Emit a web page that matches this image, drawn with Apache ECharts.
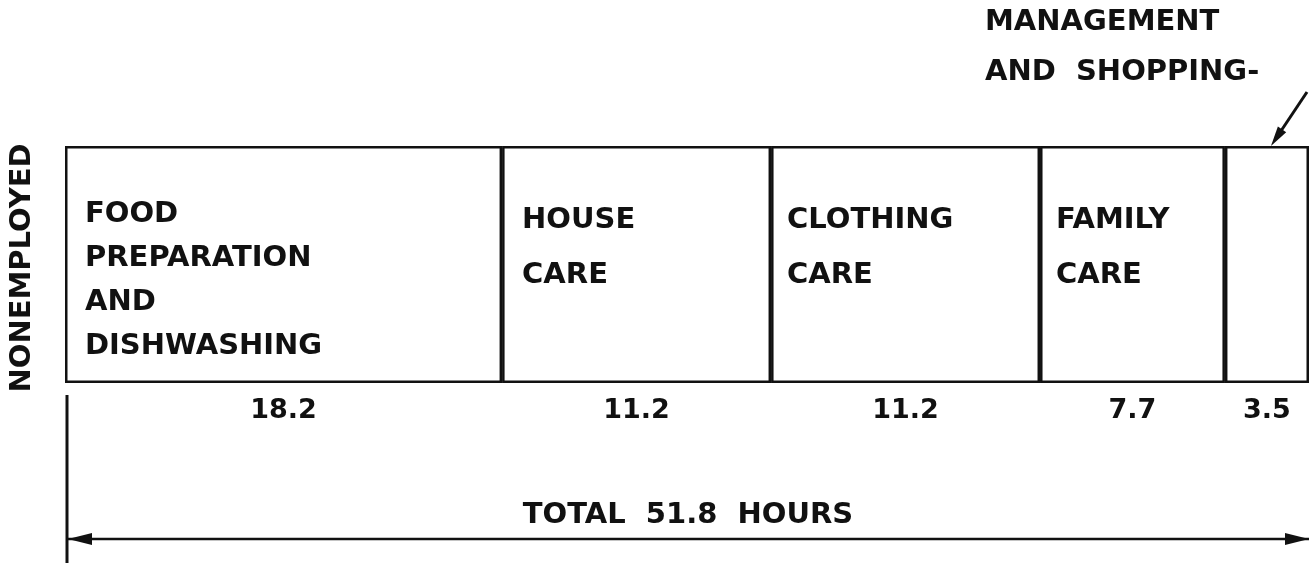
<!DOCTYPE html>
<html>
<head>
<meta charset="utf-8">
<script src="https://cdn.jsdelivr.net/npm/echarts@6/dist/echarts.min.js"></script>
<style>
  html, body { margin: 0; background: #fff; }
  #chart { width: 1309px; height: 564px; }
</style>
</head>
<body>
<div id="chart"></div>
<script>
// weekly hours of household work, nonemployed homemakers
const groupName = 'NONEMPLOYED';
const activities = ['Food preparation and dishwashing', 'House care', 'Clothing care', 'Family care', 'Management and shopping'];
const activityLabels = ['FOOD\nPREPARATION\nAND\nDISHWASHING', 'HOUSE\nCARE', 'CLOTHING\nCARE', 'FAMILY\nCARE', ''];
const hours = [18.2, 11.2, 11.2, 7.7, 3.5];
const calloutLabel = 'MANAGEMENT\nAND  SHOPPING-';

const total = +hours.reduce((a, b) => a + b, 0).toFixed(1);

const INK = '#111';
const FONT = '"DejaVu Sans", sans-serif';
// label placement inside each block (x offset, y offset, line height)
const labelX = [20, 20, 16, 16, 10];
const labelY = [46, 47, 47, 47, 47];
const labelLH = [44, 55, 55, 55, 55];

const chart = echarts.init(document.getElementById('chart'));

const series = activities.map((name, i) => ({
  name: name,
  type: 'bar',
  stack: 'total',
  barWidth: '100%',
  barGap: '-100%',
  data: [hours[i]],
  itemStyle: { color: '#fff', borderColor: INK, borderWidth: 2.5 },
  label: {
    show: true,
    position: [labelX[i], labelY[i]],
    align: 'left',
    verticalAlign: 'top',
    formatter: activityLabels[i],
    color: INK,
    fontFamily: FONT,
    fontWeight: 'bold',
    fontSize: 29,
    lineHeight: labelLH[i]
  },
  silent: true,
  z: 2
}));

// value under each block
activities.forEach((name, i) => {
  series.push({
    name: name + ' hours',
    type: 'bar',
    stack: 'values',
    barWidth: '100%',
    barGap: '-100%',
    data: [hours[i]],
    itemStyle: { color: 'transparent', borderWidth: 0 },
    label: {
      show: true,
      position: 'bottom',
      distance: 14,
      formatter: String(hours[i]),
      color: INK,
      fontFamily: FONT,
      fontWeight: 'bold',
      fontSize: 27
    },
    silent: true,
    z: 1
  });
});

chart.setOption({
  animation: false,
  backgroundColor: '#fff',
  grid: { left: 65, right: -3, top: 146, height: 237 },
  xAxis: { type: 'value', min: 0, max: total, show: false },
  yAxis: { type: 'category', data: [groupName], show: false },
  series: series
});

// annotations: dimension arrow, bracket, callout arrow
const x0 = chart.convertToPixel({ xAxisIndex: 0 }, 0);
const xEnd = chart.convertToPixel({ xAxisIndex: 0 }, total);
const lastStart = chart.convertToPixel({ xAxisIndex: 0 }, total - hours[hours.length - 1]);

function arrowHead(tip, from, len, half) {
  const dx = tip[0] - from[0], dy = tip[1] - from[1];
  const d = Math.hypot(dx, dy);
  const ux = dx / d, uy = dy / d;
  const bx = tip[0] - ux * len, by = tip[1] - uy * len;
  return {
    type: 'polygon',
    shape: { points: [tip, [bx - uy * half, by + ux * half], [bx + uy * half, by - ux * half]] },
    style: { fill: INK }
  };
}

const dimY = 539;
const bx = x0 + 2;
const leadTip = [lastStart + 46, 146];
const leadFrom = [1307, 92];

chart.setOption({
  graphic: [
    { type: 'line', shape: { x1: bx, y1: 395, x2: bx, y2: 563 }, style: { stroke: INK, lineWidth: 3 } },
    { type: 'line', shape: { x1: bx, y1: dimY, x2: xEnd, y2: dimY }, style: { stroke: INK, lineWidth: 2.5 } },
    arrowHead([bx + 1, dimY], [bx + 30, dimY], 24, 6),
    arrowHead([Math.min(xEnd, 1309), dimY], [xEnd - 30, dimY], 24, 6),
    {
      type: 'text', x: 688, y: 515,
      style: { text: 'TOTAL  ' + total + '  HOURS', fill: INK, font: 'bold 29px ' + FONT, align: 'center', verticalAlign: 'middle' }
    },
    {
      type: 'text', x: 22, y: 268, rotation: Math.PI / 2,
      style: { text: groupName, fill: INK, font: 'bold 29px ' + FONT, align: 'center', verticalAlign: 'middle' }
    },
    {
      type: 'text', x: 985, y: -3,
      style: { text: calloutLabel, fill: INK, font: 'bold 29px ' + FONT, lineHeight: 50, align: 'left', verticalAlign: 'top' }
    },
    { type: 'line', shape: { x1: leadFrom[0], y1: leadFrom[1], x2: leadTip[0] + 6, y2: leadTip[1] - 9 }, style: { stroke: INK, lineWidth: 3 } },
    arrowHead(leadTip, leadFrom, 20, 5)
  ]
});
</script>
</body>
</html>
